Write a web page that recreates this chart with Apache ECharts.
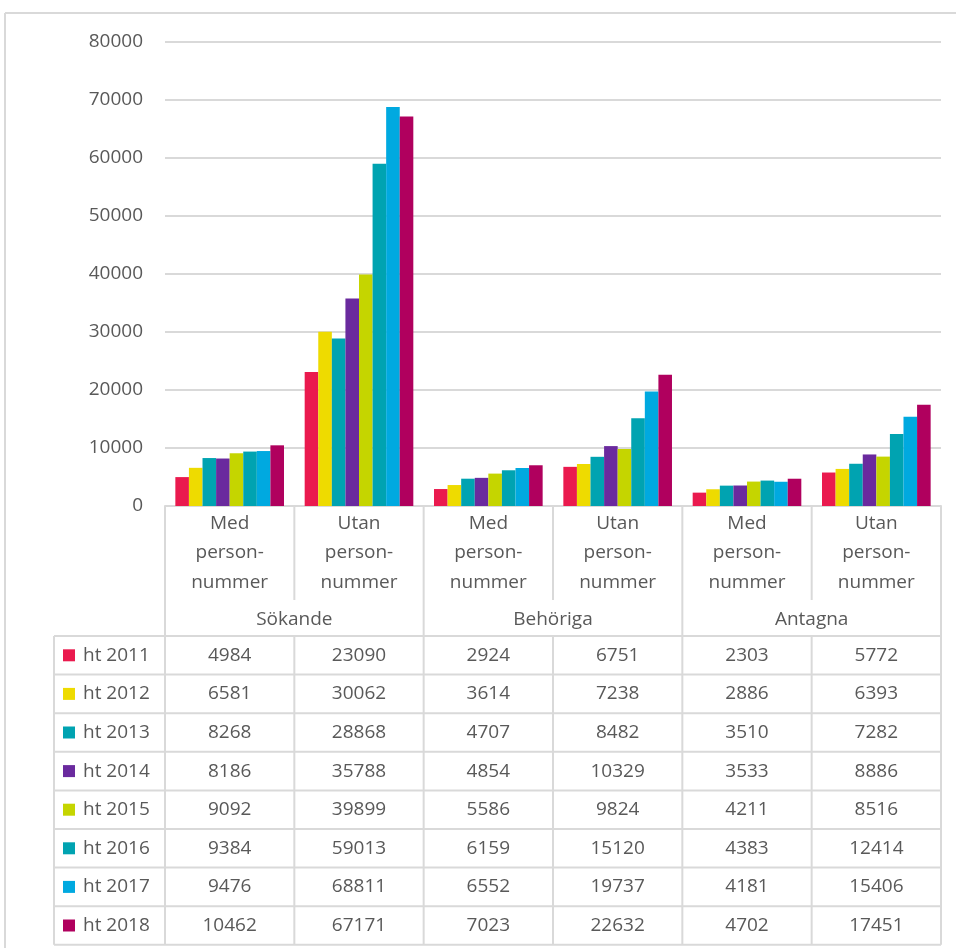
<!DOCTYPE html>
<html><head><meta charset="utf-8">
<script src="https://cdn.jsdelivr.net/npm/echarts@6/dist/echarts.min.js"></script>
<style>html,body{margin:0;padding:0;background:#fff}#c{width:956px;height:948px}</style>
</head><body><div id="c"></div>
<script>
const categories = ['Med\nperson-\nnummer','Utan\nperson-\nnummer','Med\nperson-\nnummer','Utan\nperson-\nnummer','Med\nperson-\nnummer','Utan\nperson-\nnummer'];
const groups = ['Sökande','Behöriga','Antagna'];
const seriesNames = ['ht 2011','ht 2012','ht 2013','ht 2014','ht 2015','ht 2016','ht 2017','ht 2018'];
const ht2011 = [4984, 23090, 2924, 6751, 2303, 5772];
const ht2012 = [6581, 30062, 3614, 7238, 2886, 6393];
const ht2013 = [8268, 28868, 4707, 8482, 3510, 7282];
const ht2014 = [8186, 35788, 4854, 10329, 3533, 8886];
const ht2015 = [9092, 39899, 5586, 9824, 4211, 8516];
const ht2016 = [9384, 59013, 6159, 15120, 4383, 12414];
const ht2017 = [9476, 68811, 6552, 19737, 4181, 15406];
const ht2018 = [10462, 67171, 7023, 22632, 4702, 17451];
const yTicks = [0,10000,20000,30000,40000,50000,60000,70000,80000];

const seriesData = [ht2011, ht2012, ht2013, ht2014, ht2015, ht2016, ht2017, ht2018];
const colors = ['#EA1A4E','#EEDB00','#00A3B1','#6A2A9E','#C5D500','#00A3B1','#00A9E0','#B0005E'];
const FONT = '"Open Sans", "Noto Sans", sans-serif';
const TXT = '#595959';
const LINE = '#d9d9d9';

const chart = echarts.init(document.getElementById('c'), null, {renderer:'canvas'});
const option = {
  animation: false,
  backgroundColor: '#fff',
  grid: {left: 165, right: 15, top: 42, bottom: 442, containLabel: false},
  xAxis: {
    type: 'category', data: categories,
    axisLine: {lineStyle: {color: LINE, width: 2}},
    axisTick: {show: false}, axisLabel: {show: false}
  },
  yAxis: {
    type: 'value', min: yTicks[0], max: yTicks[yTicks.length-1], interval: yTicks[1]-yTicks[0],
    axisLine: {show: false}, axisTick: {show: false},
    axisLabel: {color: TXT, fontSize: 19, fontFamily: FONT, margin: 22, formatter: v => String(v)},
    splitLine: {lineStyle: {color: LINE, width: 2}}
  },
  series: seriesNames.map((n, i) => ({
    name: n, type: 'bar', data: seriesData[i],
    barGap: '0%', barCategoryGap: '16%',
    itemStyle: {color: colors[i]}
  }))
};
chart.setOption(option);

// Build data table from axis scales
const c0 = chart.convertToPixel({xAxisIndex: 0}, 0);
const c1 = chart.convertToPixel({xAxisIndex: 0}, 1);
const band = c1 - c0;
const yBase = chart.convertToPixel({yAxisIndex: 0}, 0);
const bounds = [];
for (let i = 0; i <= categories.length; i++) bounds.push(c0 - band/2 + i*band);
const headerH = 130, subH = 94, rowH = 38.6;
const rowsTop = yBase + headerH;
const tableBottom = rowsTop + rowH * seriesNames.length;
const leftCol = 54;
const els = [];
function line(x1,y1,x2,y2){ els.push({type:'line', z:100, shape:{x1,y1,x2,y2}, style:{stroke:LINE, lineWidth:2}}); }
function text(t,x,y,align){ els.push({type:'text', z:101, style:{text:t, x, y, fill:TXT, fontSize:19, fontFamily:FONT, align:align||'center', verticalAlign:'middle', lineHeight:29.5}}); }

// outer chart border
line(5, 13, 956, 13);
line(5, 13, 5, 948);

// vertical lines
bounds.forEach((bx, i) => {
  if (i % 2 === 0) line(bx, yBase, bx, tableBottom);
  else { line(bx, yBase, bx, yBase + subH); line(bx, rowsTop, bx, tableBottom); }
});
line(leftCol, rowsTop, leftCol, tableBottom);
// horizontal lines
for (let r = 0; r <= seriesNames.length; r++) line(leftCol, rowsTop + r*rowH, bounds[bounds.length-1], rowsTop + r*rowH);

// header text
categories.forEach((cat, i) => text(cat, c0 + i*band, yBase + 47));
groups.forEach((g, i) => text(g, (bounds[2*i] + bounds[2*i+2]) / 2, yBase + 114));

// rows
seriesNames.forEach((n, r) => {
  const cy = rowsTop + r*rowH + rowH/2;
  els.push({type:'rect', z:101, shape:{x:63, y:cy-6, width:12, height:12}, style:{fill:colors[r]}});
  text(n, 83, cy, 'left');
  seriesData[r].forEach((v, i) => text(String(v), c0 + i*band, cy));
});
chart.setOption({graphic: {elements: els}});
</script></body></html>
